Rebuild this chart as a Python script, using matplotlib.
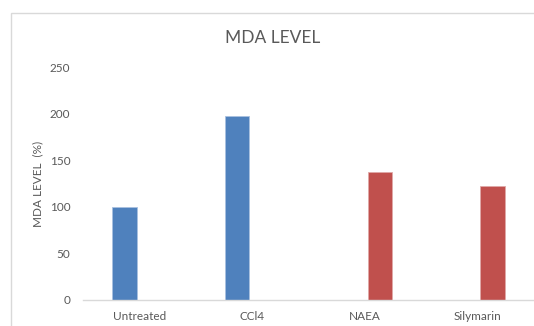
import matplotlib
matplotlib.use("Agg")
import matplotlib.pyplot as plt
from matplotlib.patches import Rectangle

categories = ["Untreated", "CCl4", "NAEA", "Silymarin"]
values = [100, 197, 137, 122]
series_index = [0, 0, 1, 1]  # 0 = blue series, 1 = red series
series_colors = ["#4F81BD", "#C0504D"]
yticks = [0, 50, 100, 150, 200, 250]

plt.rcParams['font.family'] = ['Lato', 'DejaVu Sans']
txt = "#595959"

W, H = 534, 326
fig = plt.figure(figsize=(W / 100, H / 100), dpi=100)

# chart border
fig.patches.append(Rectangle((11 / W, -0.1), 1.2, 0.1 + (1 - 13 / H),
                             transform=fig.transFigure, fill=False,
                             edgecolor="#D9D9D9", linewidth=1.0))

left, right = 83 / W, 534 / W
bottom, top = 1 - 300 / H, 1 - 67 / H
ax = fig.add_axes([left, bottom, right - left, top - bottom])

offset = 0.133
width = 0.217
for i, (v, s) in enumerate(zip(values, series_index)):
    x = i + (-offset if s == 0 else offset)
    ax.bar(x, v, width=width, color=series_colors[s], edgecolor="#A9C1E0" if s == 0 else "#E0A9A8",
           linewidth=0.6, zorder=2)

ax.set_xlim(-0.5, 3.5)
ax.set_ylim(0, 250)
ax.set_yticks(yticks)
ax.set_xticks(range(len(categories)))
ax.set_xticklabels(categories)
ax.tick_params(axis='both', length=0, labelsize=8.5, labelcolor=txt)
ax.tick_params(axis='y', pad=9)
ax.tick_params(axis='x', pad=8)
for sp in ["left", "right", "top"]:
    ax.spines[sp].set_visible(False)
ax.spines["bottom"].set_color("#D9D9D9")
ax.spines["bottom"].set_linewidth(1.0)

ax.set_ylabel("MDA LEVEL  (%)", fontsize=8.5, color=txt, labelpad=5)
fig.text(273 / W, 1 - 38 / H, "MDA LEVEL", ha="center", va="center",
         fontsize=12.5, color=txt)

fig.savefig("out.png", dpi=100)
